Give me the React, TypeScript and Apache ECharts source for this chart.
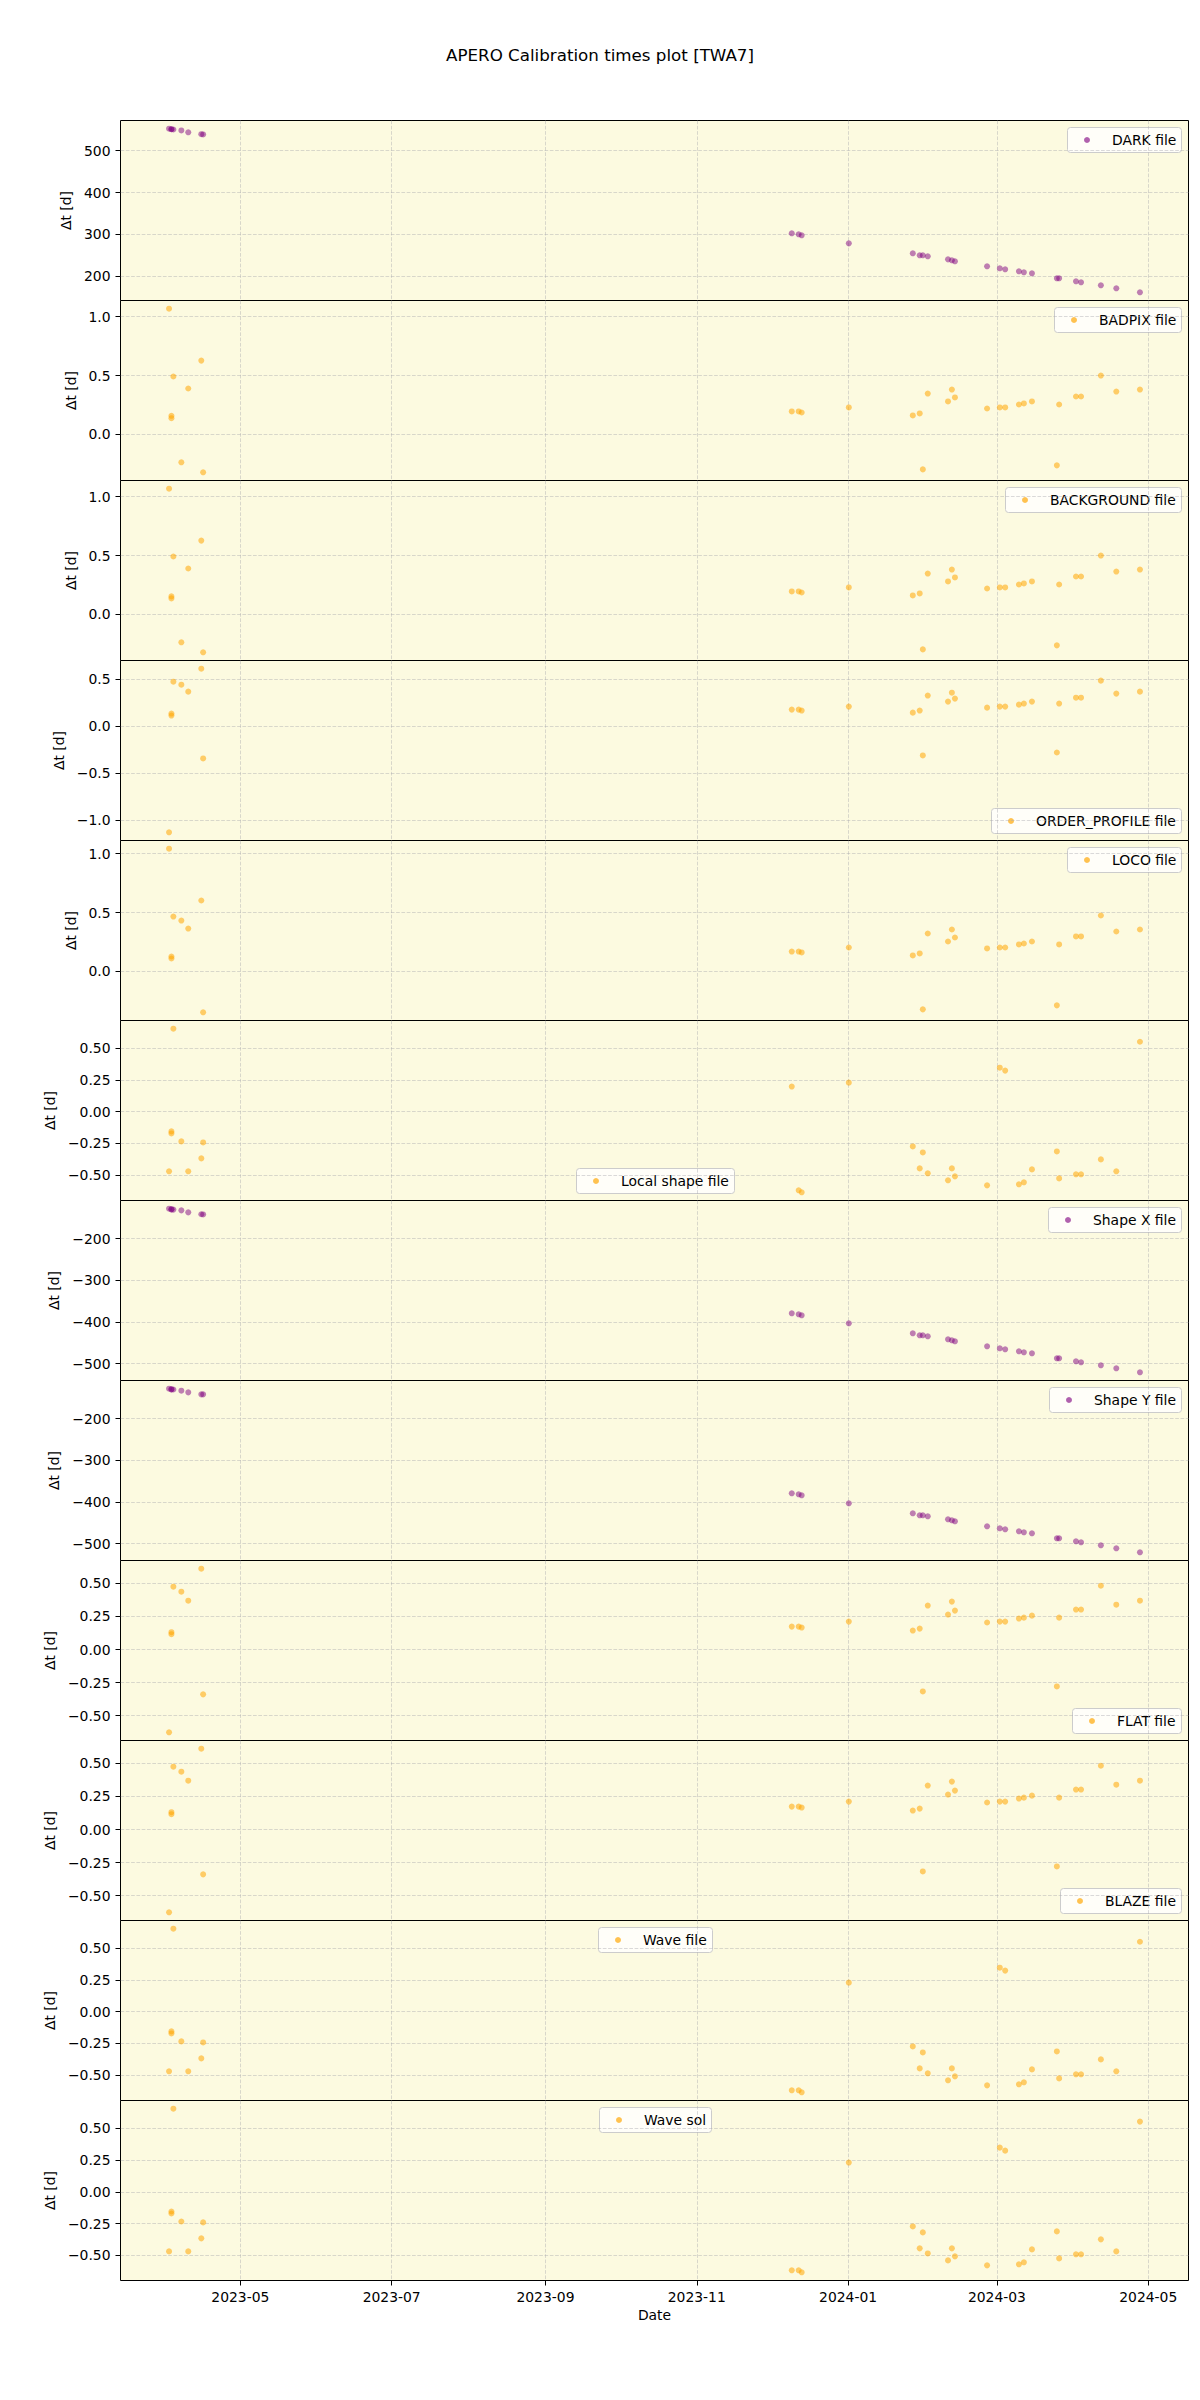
import React, { useEffect, useRef } from "react";
import * as echarts from "echarts";

const TITLE = "APERO Calibration times plot [TWA7]";
const FONT = "DejaVu Sans";

// Observation dates (UTC)
const obsDates = [
  "2023-04-02T06:00", "2023-04-03T05:00", "2023-04-03T05:00", "2023-04-04T00:00",
  "2023-04-07T05:00", "2023-04-10T00:00", "2023-04-15T06:00", "2023-04-16T00:00",
  "2023-12-09T07:00", "2023-12-12T02:00", "2023-12-13T07:00", "2024-01-01T07:00",
  "2024-01-27T02:00", "2024-01-29T21:00", "2024-01-31T03:00", "2024-02-02T03:00",
  "2024-02-10T07:00", "2024-02-11T20:00", "2024-02-13T02:00", "2024-02-26T01:00",
  "2024-03-02T04:00", "2024-03-04T08:00", "2024-03-09T21:00", "2024-03-11T21:00",
  "2024-03-15T03:00", "2024-03-25T04:00", "2024-03-26T02:00", "2024-04-01T21:00",
  "2024-04-03T22:00", "2024-04-11T22:00", "2024-04-18T03:00", "2024-04-27T16:00",
];

const darkFile = [552.5, 551.2, 551.2, 550.6, 548.3, 543.8, 539.3, 538.8, 302.7, 300.3, 298.0, 278.8, 255.0, 250.2, 250.2, 247.8, 240.6, 238.3, 235.9, 224.0, 219.2, 216.8, 212.0, 209.6, 207.2, 195.3, 195.3, 188.1, 185.8, 178.6, 171.4, 161.9];
const badpixFile = [1.068, 0.158, 0.138, 0.492, -0.237, 0.39, 0.627, -0.322, 0.195, 0.195, 0.186, 0.229, 0.161, 0.178, -0.297, 0.347, 0.28, 0.381, 0.314, 0.22, 0.229, 0.229, 0.254, 0.263, 0.28, -0.263, 0.254, 0.322, 0.322, 0.5, 0.364, 0.381];
const backgroundFile = [1.068, 0.153, 0.136, 0.492, -0.237, 0.39, 0.627, -0.322, 0.195, 0.195, 0.186, 0.229, 0.161, 0.178, -0.297, 0.347, 0.28, 0.381, 0.314, 0.22, 0.229, 0.229, 0.254, 0.263, 0.28, -0.263, 0.254, 0.322, 0.322, 0.5, 0.364, 0.381];
const orderProfileFile = [-1.131, 0.131, 0.11, 0.47, 0.438, 0.364, 0.608, -0.346, 0.173, 0.173, 0.163, 0.205, 0.141, 0.163, -0.314, 0.322, 0.258, 0.353, 0.29, 0.194, 0.205, 0.205, 0.226, 0.237, 0.258, -0.283, 0.237, 0.3, 0.3, 0.481, 0.343, 0.364];
const locoFile = [1.042, 0.127, 0.11, 0.466, 0.432, 0.364, 0.602, -0.347, 0.169, 0.169, 0.161, 0.203, 0.136, 0.153, -0.322, 0.322, 0.254, 0.356, 0.288, 0.195, 0.203, 0.203, 0.229, 0.237, 0.254, -0.288, 0.229, 0.297, 0.297, 0.475, 0.339, 0.356];
const localShapeFile = [-0.472, -0.157, -0.173, 0.654, -0.236, -0.472, -0.37, -0.244, 0.197, -0.622, -0.638, 0.228, -0.276, -0.449, -0.323, -0.488, -0.543, -0.449, -0.512, -0.583, 0.346, 0.323, -0.575, -0.559, -0.457, -0.315, -0.528, -0.496, -0.496, -0.378, -0.472, 0.551];
const shapeXFile = [-128.0, -129.6, -129.6, -130.2, -132.0, -136.8, -141.4, -141.8, -379.2, -381.6, -384.0, -403.2, -427.2, -432.0, -432.0, -434.4, -441.6, -444.0, -446.4, -458.4, -463.2, -465.6, -470.4, -472.8, -475.2, -487.2, -487.2, -494.4, -496.8, -504.0, -511.2, -520.8];
const shapeYFile = [-128.0, -129.6, -129.6, -130.0, -132.8, -136.8, -141.6, -141.6, -379.2, -381.6, -384.0, -403.2, -427.2, -432.0, -432.0, -434.4, -441.6, -444.0, -446.4, -458.4, -463.2, -465.6, -470.4, -472.8, -475.2, -487.2, -487.2, -494.4, -496.8, -504.0, -511.2, -520.8];
const flatFile = [-0.626, 0.131, 0.116, 0.475, 0.437, 0.369, 0.611, -0.339, 0.173, 0.173, 0.166, 0.211, 0.143, 0.158, -0.317, 0.332, 0.264, 0.362, 0.294, 0.204, 0.211, 0.211, 0.234, 0.241, 0.256, -0.279, 0.241, 0.302, 0.302, 0.482, 0.339, 0.369];
const blazeFile = [-0.626, 0.131, 0.116, 0.475, 0.437, 0.369, 0.611, -0.339, 0.173, 0.173, 0.166, 0.211, 0.143, 0.158, -0.317, 0.332, 0.264, 0.362, 0.294, 0.204, 0.211, 0.211, 0.234, 0.241, 0.256, -0.279, 0.241, 0.302, 0.302, 0.482, 0.339, 0.369];
const waveFile = [-0.472, -0.157, -0.173, 0.654, -0.236, -0.472, -0.37, -0.244, -0.622, -0.622, -0.638, 0.228, -0.276, -0.449, -0.323, -0.488, -0.543, -0.449, -0.512, -0.583, 0.346, 0.323, -0.575, -0.559, -0.457, -0.315, -0.528, -0.496, -0.496, -0.378, -0.472, 0.551];
const waveSol = [-0.47, -0.155, -0.171, 0.656, -0.234, -0.47, -0.367, -0.241, -0.619, -0.619, -0.635, 0.231, -0.273, -0.446, -0.32, -0.486, -0.541, -0.446, -0.509, -0.58, 0.349, 0.325, -0.572, -0.556, -0.454, -0.312, -0.525, -0.493, -0.493, -0.375, -0.47, 0.554];

// Tick labels
const dateTicks = ["2023-05-01", "2023-07-01", "2023-09-01", "2023-11-01", "2024-01-01", "2024-03-01", "2024-05-01"];
const ticksDark = [200, 300, 400, 500];
const ticksHalf = [0, 0.5, 1.0];
const ticksOrder = [-1.0, -0.5, 0, 0.5];
const ticksQuarter = [-0.5, -0.25, 0, 0.25, 0.5];
const ticksShape = [-500, -400, -300, -200];

const PURPLE = "rgba(128,0,128,0.62)";
const ORANGE = "rgba(255,165,0,0.68)";

const panels = [
  { name: "DARK file", data: darkFile, color: PURPLE, ticks: ticksDark, dec: 0, loc: "ur", gap: 40 },
  { name: "BADPIX file", data: badpixFile, color: ORANGE, ticks: ticksHalf, dec: 1, loc: "ur", gap: 36 },
  { name: "BACKGROUND file", data: backgroundFile, color: ORANGE, ticks: ticksHalf, dec: 1, loc: "ur", gap: 36 },
  { name: "ORDER_PROFILE file", data: orderProfileFile, color: ORANGE, ticks: ticksOrder, dec: 1, loc: "lr", gap: 47.5 },
  { name: "LOCO file", data: locoFile, color: ORANGE, ticks: ticksHalf, dec: 1, loc: "ur", gap: 36 },
  { name: "Local shape file", data: localShapeFile, color: ORANGE, ticks: ticksQuarter, dec: 2, loc: "lc", gap: 49.5 },
  { name: "Shape X file", data: shapeXFile, color: PURPLE, ticks: ticksShape, dec: 0, loc: "ur", gap: 47.5 },
  { name: "Shape Y file", data: shapeYFile, color: PURPLE, ticks: ticksShape, dec: 0, loc: "ur", gap: 47.5 },
  { name: "FLAT file", data: flatFile, color: ORANGE, ticks: ticksQuarter, dec: 2, loc: "lr", gap: 49.5 },
  { name: "BLAZE file", data: blazeFile, color: ORANGE, ticks: ticksQuarter, dec: 2, loc: "lr", gap: 49.5 },
  { name: "Wave file", data: waveFile, color: ORANGE, ticks: ticksQuarter, dec: 2, loc: "uc", gap: 49.5 },
  { name: "Wave sol", data: waveSol, color: ORANGE, ticks: ticksQuarter, dec: 2, loc: "uc", gap: 49.5 },
];

const W = 1200;
const H = 2400;
const LEFT = 120.5;
const RIGHT_EDGE = 1188.5;
const TOP0 = 120.5;
const PANEL_H = 180;
const BG = "#fcfae0";
const GRIDLINE = "rgba(170,170,175,0.55)";
const FS = 13.9;
const LEG_H = 25;

const ts = (s: string) => Date.parse((s.length === 10 ? s + "T00:00" : s) + ":00Z");
const fmtNum = (v: number, dec: number) => {
  const s = Math.abs(v).toFixed(dec);
  return (v < -1e-9 ? "\u2212" : "") + s;
};
const fmtDate = (v: number) => new Date(v).toISOString().slice(0, 7);

function measure(text: string) {
  const c = document.createElement("canvas").getContext("2d");
  if (!c) return text.length * 8;
  c.font = `${FS}px "${FONT}"`;
  return c.measureText(text).width;
}

export default function App() {
  const ref = useRef<HTMLDivElement>(null);
  useEffect(() => {
    if (!ref.current) return;
    const chart = echarts.init(ref.current, undefined, { renderer: "svg" });
    const xs = obsDates.map(ts);
    const xlo = Math.min(...xs);
    const xhi = Math.max(...xs);
    const xpad = (xhi - xlo) * 0.05;
    const xTickVals = dateTicks.map(ts);
    const axesW = RIGHT_EDGE - LEFT;
    const axesCx = LEFT + axesW / 2;

    const grids: any[] = [];
    const xAxes: any[] = [];
    const yAxes: any[] = [];
    const series: any[] = [];
    const graphics: any[] = [];
    const last = panels.length - 1;

    panels.forEach((p, i) => {
      const top = TOP0 + i * PANEL_H;
      const bottom = top + PANEL_H;
      grids.push({
        left: LEFT,
        width: axesW,
        top,
        height: PANEL_H,
        show: true,
        backgroundColor: BG,
        borderColor: "#000",
        borderWidth: 1,
        containLabel: false,
      });
      const isLast = i === last;
      xAxes.push({
        type: "value",
        gridIndex: i,
        position: "bottom",
        min: xlo - xpad,
        max: xhi + xpad,
        axisLine: { show: false, onZero: false },
        axisTick: {
          show: isLast,
          inside: false,
          length: 5,
          customValues: xTickVals,
          lineStyle: { color: "#000", width: 1 },
        },
        axisLabel: {
          show: isLast,
          customValues: xTickVals,
          formatter: (v: number) => fmtDate(v),
          fontSize: FS,
          fontFamily: FONT,
          color: "#000",
          margin: 9,
        },
        splitLine: {
          show: true,
          lineStyle: { color: GRIDLINE, type: [3.7, 1.6], width: 0.8 },
        },
        name: isLast ? "Date" : "",
        nameLocation: "middle",
        nameGap: 27,
        nameTextStyle: { fontSize: FS, fontFamily: FONT, color: "#000" },
      });
      const lo = Math.min(...p.data);
      const hi = Math.max(...p.data);
      const pad = (hi - lo) * 0.05;
      yAxes.push({
        type: "value",
        gridIndex: i,
        position: "left",
        min: lo - pad,
        max: hi + pad,
        axisLine: { show: false, onZero: false },
        axisTick: {
          show: true,
          inside: false,
          length: 5,
          customValues: p.ticks,
          lineStyle: { color: "#000", width: 1 },
        },
        axisLabel: {
          show: true,
          customValues: p.ticks,
          formatter: (v: number) => fmtNum(v, p.dec),
          fontSize: FS,
          fontFamily: FONT,
          color: "#000",
          margin: 10,
        },
        splitLine: {
          show: true,
          lineStyle: { color: GRIDLINE, type: [3.7, 1.6], width: 0.8 },
        },
        name: "\u0394t [d]",
        nameLocation: "middle",
        nameRotate: 90,
        nameGap: p.gap,
        nameTextStyle: { fontSize: FS, fontFamily: FONT, color: "#000" },
      });
      series.push({
        type: "scatter",
        name: p.name,
        xAxisIndex: i,
        yAxisIndex: i,
        symbol: "circle",
        symbolSize: 6,
        itemStyle: { color: p.color },
        silent: true,
        data: xs.map((x, k) => [x, p.data[k]]),
      });

      // legend box (matplotlib-like): borderpad 5.6, handle 27.8, text pad 11.1
      const bw = Math.round(5.6 + 27.8 + 11.1 + measure(p.name) + 5.6);
      let bx = 0;
      let by = 0;
      if (p.loc === "ur" || p.loc === "lr") bx = RIGHT_EDGE - 7 - bw;
      else bx = Math.round(axesCx - bw / 2) + 0.5;
      if (p.loc === "ur" || p.loc === "uc") by = top + 7;
      else by = bottom - 7 - LEG_H;
      graphics.push({
        type: "group",
        z: 100,
        silent: true,
        children: [
          {
            type: "rect",
            shape: { x: bx, y: by, width: bw, height: LEG_H, r: 3 },
            style: { fill: "rgba(255,255,255,0.8)", stroke: "#cccccc", lineWidth: 1 },
          },
          {
            type: "circle",
            shape: { cx: bx + 5.6 + 13.9, cy: by + LEG_H / 2, r: 3 },
            style: { fill: p.color },
          },
          {
            type: "text",
            x: bx + 5.6 + 27.8 + 11.1,
            y: by + LEG_H / 2,
            style: {
              text: p.name,
              fontSize: FS,
              fontFamily: FONT,
              fill: "#000",
              align: "left",
              verticalAlign: "middle",
            },
          },
        ],
      });
    });

    chart.setOption({
      animation: false,
      backgroundColor: "#fff",
      textStyle: { fontFamily: FONT },
      title: {
        text: TITLE,
        left: "center",
        top: 46,
        padding: 0,
        textStyle: { fontSize: 16.7, fontWeight: "normal", color: "#000", fontFamily: FONT },
      },
      grid: grids,
      xAxis: xAxes,
      yAxis: yAxes,
      series,
      graphic: graphics,
    });
    return () => chart.dispose();
  }, []);
  return (
    <div
      ref={ref}
      style={{ position: "absolute", left: 0, top: 0, width: W, height: H }}
    />
  );
}
